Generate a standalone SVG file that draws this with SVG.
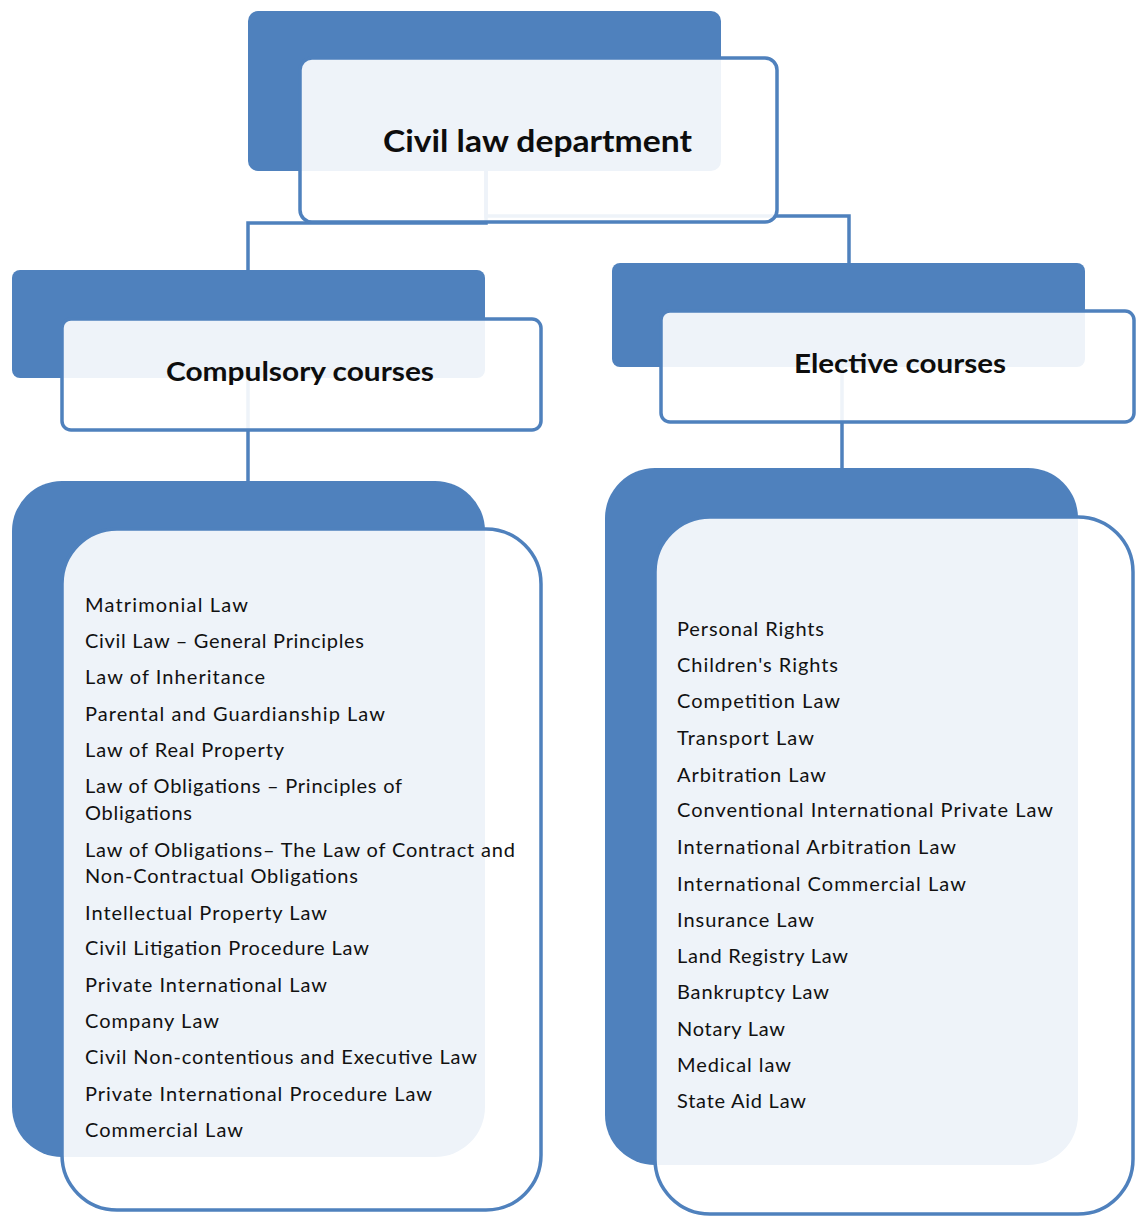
<svg xmlns="http://www.w3.org/2000/svg" width="1136" height="1216" viewBox="0 0 1136 1216">
<style>
.back{fill:#4F81BD;}
.front{fill:#FFFFFF;fill-opacity:0.9;stroke:#4F81BD;stroke-width:3.5;}
.conn{fill:none;stroke:#4F81BD;stroke-width:3.5;}
.hd{font-family:Lato,"Liberation Sans",sans-serif;font-weight:700;fill:#0d0d0d;}
.it{font-family:Lato,"Liberation Sans",sans-serif;font-size:20px;fill:#111;}
</style>
<rect width="1136" height="1216" fill="#FFFFFF"/>
<g id="connectors">
<path class="conn" d="M486,171 V223 H248 V272"/>
<path class="conn" d="M486,171 V216 H849 V265"/>
<path class="conn" d="M248,378 V482"/>
<path class="conn" d="M842,367 V469"/>
</g>
<g id="node-civil-law-department">
<rect class="back" x="248" y="11" width="473" height="160" rx="10"/>
<rect class="front" x="300" y="58" width="477" height="164" rx="12"/>
<text class="hd" x="383" y="152" font-size="31" textLength="309" lengthAdjust="spacingAndGlyphs">Civil law department</text>
</g>
<g id="node-compulsory-courses">
<rect class="back" x="12" y="270" width="473" height="108" rx="8"/>
<rect class="front" x="62" y="319" width="479" height="111" rx="9"/>
<text class="hd" x="166" y="381" font-size="26" textLength="268" lengthAdjust="spacingAndGlyphs">Compulsory courses</text>
</g>
<g id="node-elective-courses">
<rect class="back" x="612" y="263" width="473" height="104" rx="8"/>
<rect class="front" x="661" y="311" width="473" height="111" rx="9"/>
<text class="hd" x="794" y="373" font-size="26" textLength="212" lengthAdjust="spacingAndGlyphs">Elective courses</text>
</g>
<g id="node-compulsory-list">
<rect class="back" x="12" y="481" width="473" height="676" rx="50"/>
<rect class="front" x="62" y="529" width="479" height="681" rx="55"/>
<text class="it" x="85" y="612" textLength="163">Matrimonial Law</text>
<text class="it" x="85" y="648" textLength="279">Civil Law – General Principles</text>
<text class="it" x="85" y="684" textLength="180">Law of Inheritance</text>
<text class="it" x="85" y="721" textLength="300">Parental and Guardianship Law</text>
<text class="it" x="85" y="757" textLength="199">Law of Real Property</text>
<text class="it" x="85" y="793" textLength="317">Law of Obligations – Principles  of</text>
<text class="it" x="85" y="820" textLength="107">Obligations</text>
<text class="it" x="85" y="857" textLength="430">Law of Obligations– The Law of Contract and</text>
<text class="it" x="85" y="883" textLength="273">Non-Contractual Obligations</text>
<text class="it" x="85" y="920" textLength="242">Intellectual Property Law</text>
<text class="it" x="85" y="955" textLength="284">Civil Litigation Procedure Law</text>
<text class="it" x="85" y="992" textLength="242">Private International Law</text>
<text class="it" x="85" y="1028" textLength="134">Company Law</text>
<text class="it" x="85" y="1064" textLength="392">Civil Non-contentious  and Executive Law</text>
<text class="it" x="85" y="1101" textLength="347">Private International Procedure Law</text>
<text class="it" x="85" y="1137" textLength="158">Commercial Law</text>
</g>
<g id="node-elective-list">
<rect class="back" x="605" y="468" width="473" height="697" rx="50"/>
<rect class="front" x="655" y="517" width="478" height="697" rx="55"/>
<text class="it" x="677" y="636" textLength="147">Personal Rights</text>
<text class="it" x="677" y="672" textLength="161">Children's Rights</text>
<text class="it" x="677" y="708" textLength="163">Competition Law</text>
<text class="it" x="677" y="745" textLength="137">Transport Law</text>
<text class="it" x="677" y="782" textLength="149">Arbitration Law</text>
<text class="it" x="677" y="817" textLength="376">Conventional International Private Law</text>
<text class="it" x="677" y="854" textLength="279">International Arbitration Law</text>
<text class="it" x="677" y="891" textLength="289">International Commercial Law</text>
<text class="it" x="677" y="927" textLength="137">Insurance Law</text>
<text class="it" x="677" y="963" textLength="171">Land Registry Law</text>
<text class="it" x="677" y="999" textLength="152">Bankruptcy Law</text>
<text class="it" x="677" y="1036" textLength="108">Notary Law</text>
<text class="it" x="677" y="1072" textLength="114">Medical law</text>
<text class="it" x="677" y="1108" textLength="129">State Aid Law</text>
</g>
</svg>
